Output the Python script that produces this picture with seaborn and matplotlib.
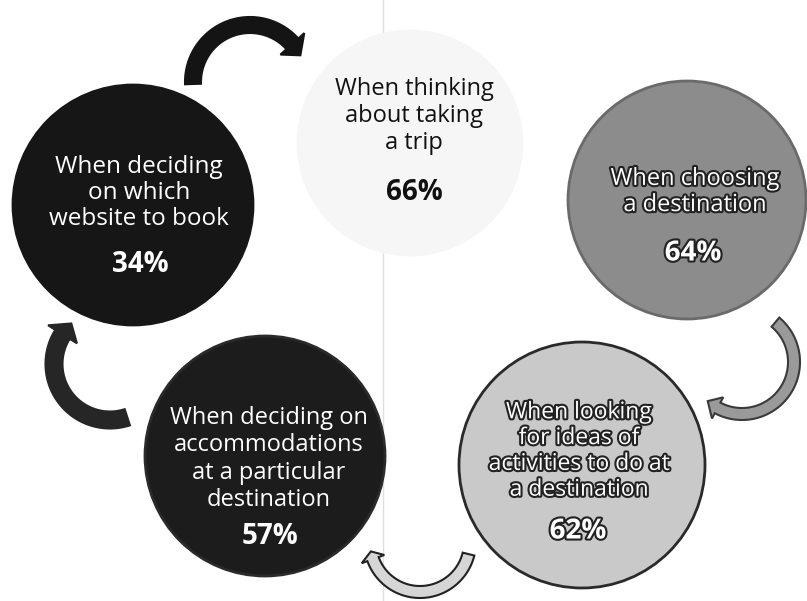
import matplotlib
matplotlib.use("Agg")
import matplotlib.pyplot as plt
import matplotlib.patheffects as pe
from matplotlib.patches import Circle, Polygon
import numpy as np
import seaborn as sns

# data
labels = ["When thinking\nabout taking\na trip",
          "When choosing\na destination",
          "When looking\nfor ideas of\nactivities to do at\na destination",
          "When deciding on\naccommodations\nat a particular\ndestination",
          "When deciding\non which\nwebsite to book"]
percents = [66, 64, 62, 57, 34]

# layout (pixels, y down)
centers = [(410, 143), (687, 200), (582, 465), (265, 456), (133, 205)]
radii = [112, 119, 123, 120, 120]
fills = ["#f6f6f6", "#8c8c8c", "#c9c9c9", "#1c1c1c", "#161616"]
edges = ["#f6f6f6", "#6a6a6a", "#2a2a2a", "#2a2a2a", "#161616"]
text_pos = [(414, 116), (695, 192), (579, 451), (269, 459), (139, 193)]
pct_pos = [(414, 192), (693, 253), (578, 531), (270, 536), (140, 264)]
text_col = ["#111111", "white", "white", "white", "white"]
outlined = [False, True, True, False, False]
text_size = [17, 17, 16.5, 17, 17.5]
line_sp = [1.14, 1.12, 1.1, 1.2, 1.12]


def arc_arrow(ax, cx, cy, r, w, t0, t1, head, face, edge):
    s = np.sign(t1 - t0)
    ts = np.radians(np.linspace(t0, t1, 80))
    tt = np.radians(t1)
    pts = [(cx + (r + w / 2) * np.cos(t), cy - (r + w / 2) * np.sin(t)) for t in ts]
    if head > 0:
        tip = tt + s * head / r
        pts.append((cx + (r + w) * np.cos(tt), cy - (r + w) * np.sin(tt)))
        pts.append((cx + r * np.cos(tip), cy - r * np.sin(tip)))
        pts.append((cx + (r - w) * np.cos(tt), cy - (r - w) * np.sin(tt)))
    pts += [(cx + (r - w / 2) * np.cos(t), cy - (r - w / 2) * np.sin(t)) for t in ts[::-1]]
    ax.add_patch(Polygon(pts, closed=True, facecolor=face, edgecolor=edge, lw=1.5, zorder=1))


sns.set_theme(style="white")
plt.rcParams["font.family"] = ["Open Sans", "DejaVu Sans"]

fig = plt.figure(figsize=(8.07, 6.01), dpi=100)
ax = fig.add_axes([0, 0, 1, 1])
ax.set_xlim(0, 807)
ax.set_ylim(601, 0)
ax.set_aspect("equal")
ax.axis("off")

# scan fold line
ax.plot([383, 383], [0, 601], color="#e0e0e0", lw=1, zorder=0)

# arrows between the steps
arc_arrow(ax, 250, 82, 57, 16, 182, 42, 14, "#141414", "#141414")
arc_arrow(ax, 742, 362, 52, 12, 50, -118, 12, "#9a9a9a", "#3a3a3a")
arc_arrow(ax, 420, 542, 50, 12, -14, -160, 8, "#d6d6d6", "#222222")
arc_arrow(ax, 110, 364, 56, 17, -72, -212, 14, "#262626", "#262626")

for i in range(len(percents)):
    cx, cy = centers[i]
    ax.add_patch(Circle((cx, cy), radii[i], facecolor=fills[i], edgecolor=edges[i],
                        lw=2, zorder=2))
    fx = [pe.withStroke(linewidth=3, foreground="#222222")] if outlined[i] else None
    ax.text(text_pos[i][0], text_pos[i][1], labels[i], ha="center", va="center",
            fontsize=text_size[i], color=text_col[i], linespacing=line_sp[i],
            path_effects=fx, zorder=3)
    ax.text(pct_pos[i][0], pct_pos[i][1], f"{percents[i]}%", ha="center", va="center",
            fontsize=20, fontweight="bold", color=text_col[i], path_effects=fx, zorder=3)

fig.savefig("out.png", dpi=100)
